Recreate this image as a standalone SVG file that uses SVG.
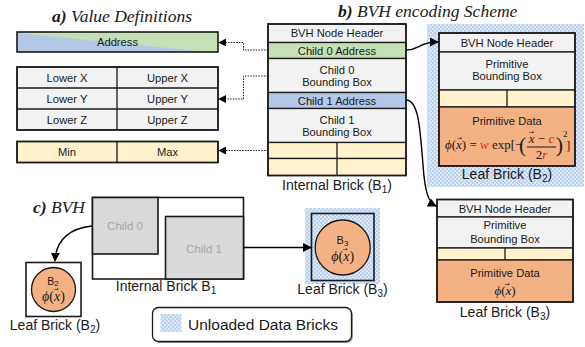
<svg xmlns="http://www.w3.org/2000/svg" width="585" height="347" viewBox="0 0 585 347">
  <defs>
    <!-- speckled blue fill for unloaded bricks -->
    <pattern id="unloaded" width="4" height="4" patternUnits="userSpaceOnUse">
      <rect width="4" height="4" fill="#b9d1ee"/>
      <circle cx="1" cy="1" r="0.9" fill="#eef4fb"/>
      <circle cx="3" cy="3" r="0.9" fill="#eef4fb"/>
    </pattern>
    <marker id="arrow" viewBox="0 0 10 10" refX="9" refY="5" markerWidth="8" markerHeight="8" markerUnits="userSpaceOnUse" orient="auto">
      <path d="M0,0 L10,5 L0,10 z" fill="#000"/>
    </marker>
    <marker id="arrowL" viewBox="0 0 10 10" refX="9" refY="5" markerWidth="9" markerHeight="9" markerUnits="userSpaceOnUse" orient="auto">
      <path d="M0,0 L10,5 L0,10 z" fill="#000"/>
    </marker>
  </defs>
  <style>
    .cell { stroke: #1a1a1a; stroke-width: 1.3; }
    .frame { fill: none; stroke: #1a1a1a; stroke-width: 1.6; }
    .gray { fill: #f2f2f2; }
    .green { fill: #c5e0b4; }
    .blue { fill: #b4c7e7; }
    .yellow { fill: #fff2cc; }
    .orange { fill: #f4b183; }
    .t { font-family: "Liberation Sans", Arial, sans-serif; font-size: 11.2px; fill: #1a1a1a; text-anchor: middle; }
    .lbl { font-family: "Liberation Sans", Arial, sans-serif; font-size: 14px; fill: #1a1a1a; text-anchor: middle; }
    .title { font-family: "Liberation Serif", "Times New Roman", serif; font-style: italic; font-size: 17.5px; fill: #1a1a1a; }
    .math { font-family: "Liberation Serif", "Times New Roman", serif; font-size: 13px; fill: #1a1a1a; }
    .it { font-style: italic; }
    .red { fill: #e8231f; }
    .vec { font-family: "DejaVu Sans", sans-serif; font-size: 6px; fill: #1a1a1a; text-anchor: middle; }
    .dot { fill: none; stroke: #1a1a1a; stroke-width: 1; stroke-dasharray: 1.5 1.2; }
    .wire { fill: none; stroke: #000; stroke-width: 1.4; }
    .ghost { font-family: "Liberation Sans", Arial, sans-serif; font-size: 11.5px; fill: #a6a6a6; text-anchor: middle; }
  </style>

  <!-- a) Value Definitions -->
  <g id="value-definitions">
    <text class="title" x="52" y="22"><tspan font-weight="bold">a)</tspan> Value Definitions</text>
    <g id="address-value">
      <rect x="17" y="32" width="201" height="20" class="green"/>
      <polygon points="17,33 208,52 17,52" class="blue"/>
      <rect x="17" y="32" width="201" height="20" class="frame"/>
      <text class="t" x="117.5" y="46">Address</text>
    </g>
    <g id="bounds-value">
      <rect x="17" y="67" width="201" height="63" class="gray cell"/>
      <line x1="17" y1="88" x2="218" y2="88" class="cell"/>
      <line x1="17" y1="109" x2="218" y2="109" class="cell"/>
      <line x1="117" y1="67" x2="117" y2="130" class="cell"/>
      <rect x="17" y="67" width="201" height="63" class="frame"/>
      <text class="t" x="67" y="81.5">Lower X</text>
      <text class="t" x="167.5" y="81.5">Upper X</text>
      <text class="t" x="67" y="102.5">Lower Y</text>
      <text class="t" x="167.5" y="102.5">Upper Y</text>
      <text class="t" x="67" y="123.5">Lower Z</text>
      <text class="t" x="167.5" y="123.5">Upper Z</text>
    </g>
    <g id="range-value">
      <rect x="17" y="141.5" width="201" height="21" class="yellow cell"/>
      <line x1="117" y1="141.5" x2="117" y2="162.5" class="cell"/>
      <rect x="17" y="141.5" width="201" height="21" class="frame"/>
      <text class="t" x="67" y="156">Min</text>
      <text class="t" x="167.5" y="156">Max</text>
    </g>
  </g>

  <!-- b) BVH encoding scheme -->
  <text class="title" x="338" y="17"><tspan font-weight="bold">b)</tspan> BVH encoding Scheme</text>

  <g id="internal-brick">
    <rect x="268" y="24" width="138" height="18.5" class="gray cell"/>
    <rect x="268" y="42.5" width="138" height="16" class="green cell"/>
    <rect x="268" y="58.5" width="138" height="34" class="gray cell"/>
    <rect x="268" y="92.5" width="138" height="16" class="blue cell"/>
    <rect x="268" y="108.5" width="138" height="34" class="gray cell"/>
    <rect x="268" y="142.5" width="138" height="16" class="yellow cell"/>
    <rect x="268" y="158.5" width="138" height="17" class="yellow cell"/>
    <line x1="337" y1="142.5" x2="337" y2="175.5" class="cell"/>
    <rect x="268" y="24" width="138" height="151.5" class="frame"/>
    <text class="t" x="337" y="37">BVH Node Header</text>
    <text class="t" x="337" y="54.5">Child 0 Address</text>
    <text class="t" x="337" y="74">Child 0</text>
    <text class="t" x="337" y="85.5">Bounding Box</text>
    <text class="t" x="337" y="104.5">Child 1 Address</text>
    <text class="t" x="337" y="124">Child 1</text>
    <text class="t" x="337" y="135.5">Bounding Box</text>
    <text class="lbl" x="337" y="190">Internal Brick (B<tspan font-size="10" dy="3">1</tspan><tspan dy="-3">)</tspan></text>
  </g>

  <g id="leaf-brick-b2">
    <rect x="427" y="24" width="157" height="163" fill="url(#unloaded)"/>
    <rect x="439" y="33" width="136" height="19" class="gray cell"/>
    <rect x="439" y="52" width="136" height="38" class="gray cell"/>
    <rect x="439" y="90" width="136" height="17" class="yellow cell"/>
    <line x1="507" y1="90" x2="507" y2="107" class="cell"/>
    <rect x="439" y="107" width="136" height="59" class="orange cell"/>
    <rect x="439" y="33" width="136" height="133" class="frame"/>
    <text class="t" x="507" y="47">BVH Node Header</text>
    <text class="t" x="507" y="68">Primitive</text>
    <text class="t" x="507" y="80">Bounding Box</text>
    <text class="t" x="507" y="125">Primitive Data</text>
    <!-- density formula -->
    <text class="math" x="445" y="149"><tspan class="it">ϕ</tspan>(<tspan class="it">x</tspan>) = <tspan class="it red">w</tspan> exp[−</text>
    <text class="vec" x="459.5" y="140">→</text>
    <text class="math" x="519" y="152" style="font-size:21px">(</text>
    <text class="math" x="541.5" y="143" style="text-anchor:middle"><tspan class="it">x</tspan> − <tspan class="it red">c</tspan></text>
    <text class="vec" x="531.5" y="134">→</text>
    <line x1="527" y1="147" x2="556" y2="147" stroke="#1a1a1a" stroke-width="1"/>
    <text class="math" x="541.5" y="158.5" style="text-anchor:middle">2<tspan class="it red">r</tspan></text>
    <text class="math" x="556" y="152" style="font-size:21px">)</text>
    <text class="math" x="563" y="137" style="font-size:9px">2</text>
    <text class="math" x="566" y="150">]</text>
    <text class="lbl" x="507" y="179">Leaf Brick (B<tspan font-size="10" dy="3">2</tspan><tspan dy="-3">)</tspan></text>
  </g>

  <g id="leaf-brick-b3">
    <rect x="437" y="199.5" width="136" height="17.5" class="gray cell"/>
    <rect x="437" y="217" width="136" height="31" class="gray cell"/>
    <rect x="437" y="248" width="136" height="12" class="yellow cell"/>
    <line x1="505" y1="248" x2="505" y2="260" class="cell"/>
    <rect x="437" y="260" width="136" height="42" class="orange cell"/>
    <rect x="437" y="199.5" width="136" height="102.5" class="frame"/>
    <text class="t" x="505" y="212.5">BVH Node Header</text>
    <text class="t" x="505" y="228.5">Primitive</text>
    <text class="t" x="505" y="242.5">Bounding Box</text>
    <text class="t" x="505" y="276.5">Primitive Data</text>
    <text class="math" x="505" y="295" style="text-anchor:middle"><tspan class="it">ϕ</tspan>(<tspan class="it">x</tspan>)</text>
    <text class="vec" x="507" y="286">→</text>
    <text class="lbl" x="505" y="317">Leaf Brick (B<tspan font-size="10" dy="3">3</tspan><tspan dy="-3">)</tspan></text>
  </g>

  <!-- c) BVH -->
  <text class="title" x="33" y="213"><tspan font-weight="bold">c)</tspan> BVH</text>

  <g id="internal-brick-c">
    <rect x="92.5" y="197.5" width="151" height="81.5" fill="#fff" stroke="#1a1a1a" stroke-width="1.6"/>
    <rect x="92.5" y="197.5" width="65.5" height="56.5" fill="#d9d9d9" stroke="#1a1a1a" stroke-width="1.6"/>
    <rect x="165.5" y="216.5" width="78" height="62.5" fill="#d9d9d9" stroke="#1a1a1a" stroke-width="1.6"/>
    <text class="ghost" x="125" y="230">Child 0</text>
    <text class="ghost" x="204" y="252.5">Child 1</text>
    <text class="lbl" x="166" y="291">Internal Brick B<tspan font-size="10" dy="3">1</tspan></text>
  </g>

  <g id="leaf-b2-c">
    <rect x="26" y="262.5" width="55" height="54" fill="#fff" stroke="#1a1a1a" stroke-width="1.6"/>
    <circle cx="53.5" cy="289.5" r="22" class="orange" stroke="#1a1a1a" stroke-width="1.3"/>
    <text class="t" x="53" y="284.5" style="font-size:10.5px">B<tspan font-size="8" dy="1.5">2</tspan></text>
    <text class="math" x="53.5" y="301" style="font-size:14px;text-anchor:middle"><tspan class="it">ϕ</tspan>(<tspan class="it">x</tspan>)</text>
    <text class="vec" x="56" y="291">→</text>
    <text class="lbl" x="55" y="330">Leaf Brick (B<tspan font-size="10" dy="3">2</tspan><tspan dy="-3">)</tspan></text>
  </g>

  <g id="leaf-b3-c">
    <rect x="305" y="208" width="75" height="76" fill="url(#unloaded)"/>
    <rect x="311.5" y="213.5" width="62.5" height="67" fill="none" stroke="#1a1a1a" stroke-width="1.6"/>
    <circle cx="342.7" cy="247.5" r="27.5" class="orange" stroke="#1a1a1a" stroke-width="1.3"/>
    <text class="t" x="342.5" y="244" style="font-size:11px">B<tspan font-size="8" dy="1.5">3</tspan></text>
    <text class="math" x="342.7" y="261" style="font-size:14px;text-anchor:middle"><tspan class="it">ϕ</tspan>(<tspan class="it">x</tspan>)</text>
    <text class="vec" x="345" y="251">→</text>
    <text class="lbl" x="342.5" y="294">Leaf Brick (B<tspan font-size="10" dy="3">3</tspan><tspan dy="-3">)</tspan></text>
  </g>

  <g id="legend">
    <rect x="154" y="309" width="199" height="34" rx="6" fill="#a0a0a0"/>
    <rect x="152.5" y="307.5" width="199" height="34" rx="6" fill="#fff" stroke="#1a1a1a" stroke-width="1.3"/>
    <rect x="160.5" y="314" width="21" height="18" fill="url(#unloaded)"/>
    <text class="lbl" x="188" y="330" style="font-size:15.5px;text-anchor:start">Unloaded Data Bricks</text>
  </g>

  <!-- connectors -->
  <g id="connectors">
    <path class="dot" d="M268,50 H243.5 V42.5 H219" marker-end="url(#arrow)"/>
    <path class="dot" d="M268,76 H243.5 V99 H219" marker-end="url(#arrow)"/>
    <path class="dot" d="M268,150.5 H219" marker-end="url(#arrow)"/>
    <path class="wire" d="M406,50 C420,50 418,42 438,42" marker-end="url(#arrowL)"/>
    <path class="wire" d="M406,100 C418,100 420,125 423,165 C425,192 428,202 436,206" marker-end="url(#arrowL)"/>
    <path class="wire" d="M92,226 C72,228 56,238 55,261" marker-end="url(#arrowL)"/>
    <path class="wire" d="M243.5,247.5 H311" marker-end="url(#arrowL)"/>
  </g>
</svg>
